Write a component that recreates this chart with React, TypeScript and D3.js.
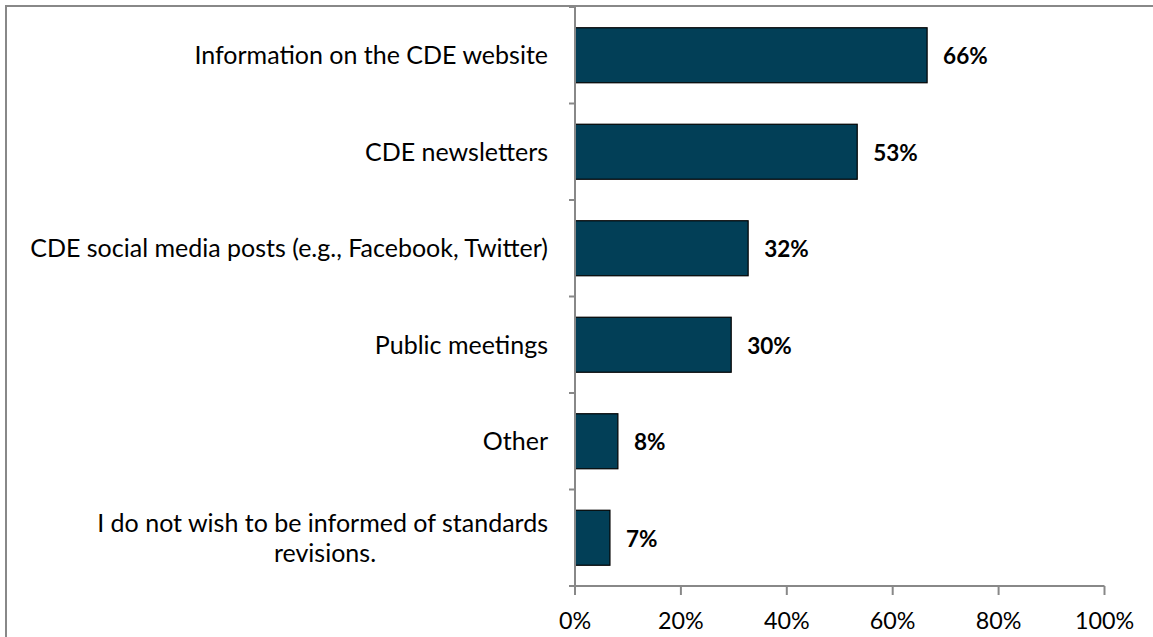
import React from "react";
import * as d3 from "d3";

const categories = [
  "Information on the CDE website",
  "CDE newsletters",
  "CDE social media posts (e.g., Facebook, Twitter)",
  "Public meetings",
  "Other",
  "I do not wish to be informed of standards revisions.",
];
const values = [0.665, 0.533, 0.327, 0.295, 0.081, 0.066];
const valueLabels = ["66%", "53%", "32%", "30%", "8%", "7%"];
const xTicks = [0, 0.2, 0.4, 0.6, 0.8, 1.0];
const wrapped: Record<string, string[]> = {
  "I do not wish to be informed of standards revisions.": [
    "I do not wish to be informed of standards",
    "revisions.",
  ],
};

const W = 1153;
const H = 637;
const left = 575;
const right = 1104.5;
const top = 7;
const bottom = 586;
const FONT = "Lato, 'Open Sans', sans-serif";
const AXIS = "#888888";

export default function App() {
  const x = d3.scaleLinear().domain([0, 1]).range([left, right]);
  const y = d3
    .scaleBand<string>()
    .domain(categories)
    .range([top, bottom])
    .paddingInner(0.43)
    .paddingOuter(0.215);
  const step = (bottom - top) / categories.length;
  const boundaries = d3.range(categories.length + 1).map((i) => top + i * step);

  return (
    <svg
      width={W}
      height={H}
      style={{ position: "absolute", left: 0, top: 0, background: "#fff" }}
      fontFamily={FONT}
    >
      <rect x={6} y={6} width={1200} height={700} fill="#fff" stroke={AXIS} strokeWidth={2} />
      {categories.map((c, i) => {
        const yy = y(c)!;
        const bw = y.bandwidth();
        const cy = yy + bw / 2;
        const lines = wrapped[c];
        return (
          <g key={c}>
            <rect
              x={x(0)}
              y={yy}
              width={x(values[i]) - x(0)}
              height={bw}
              fill="#023F57"
              stroke="#000"
              strokeWidth={1.2}
            />
            <text
              x={x(values[i]) + 16}
              y={cy + 1}
              dy="0.35em"
              fontSize={22.5}
              fontWeight="bold"
              fill="#000"
            >
              {valueLabels[i]}
            </text>
            {lines ? (
              <>
                <text x={548} y={cy - 15} dy="0.35em" fontSize={25} textAnchor="end" fill="#000">
                  {lines[0]}
                </text>
                <text x={325} y={cy + 15} dy="0.35em" fontSize={25} textAnchor="middle" fill="#000">
                  {lines[1]}
                </text>
              </>
            ) : (
              <text x={548} y={cy} dy="0.35em" fontSize={25} textAnchor="end" fill="#000">
                {c}
              </text>
            )}
          </g>
        );
      })}
      <line x1={left} x2={left} y1={top} y2={bottom} stroke={AXIS} strokeWidth={2} />
      {boundaries.map((b, i) => (
        <line key={i} x1={left - 6} x2={left} y1={b} y2={b} stroke={AXIS} strokeWidth={2} />
      ))}
      <line x1={left - 6} x2={right} y1={bottom} y2={bottom} stroke={AXIS} strokeWidth={2} />
      {xTicks.map((t) => (
        <g key={t}>
          <line x1={x(t)} x2={x(t)} y1={bottom} y2={bottom + 9} stroke={AXIS} strokeWidth={2} />
          <text x={x(t)} y={620.5} dy="0.35em" fontSize={23.3} textAnchor="middle" fill="#000">
            {d3.format(".0%")(t)}
          </text>
        </g>
      ))}
    </svg>
  );
}
